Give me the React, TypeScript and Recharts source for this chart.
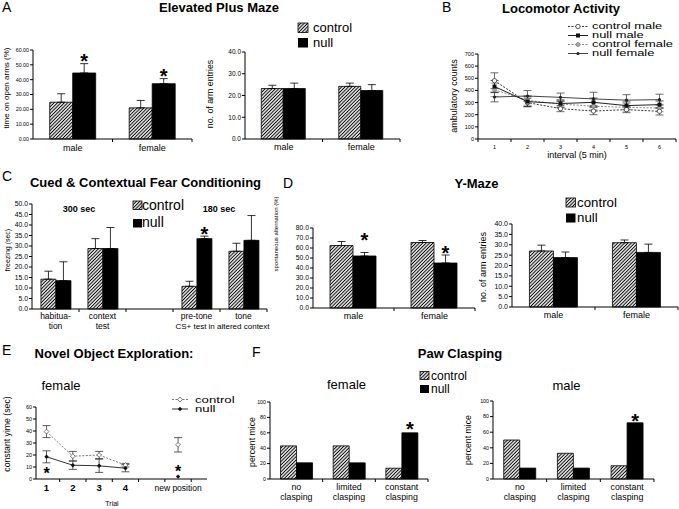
import React from 'react';
import { BarChart, Bar, XAxis, YAxis, ErrorBar, LabelList, LineChart, Line } from 'recharts';

// ---------- A: Elevated Plus Maze ----------
const sexCats = ['male', 'female'];
const epmOpenCtrl = [24.8, 21.0];
const epmOpenCtrlErr = [5.7, 5.0];
const epmOpenNull = [44.5, 37.3];
const epmOpenNullErr = [6.3, 3.4];
const epmOpenSig = [55.4, 45.2];
const epmOpenTicks = [0, 10, 20, 30, 40, 50, 60];

const epmEntCtrl = [23.2, 24.2];
const epmEntCtrlErr = [1.5, 1.5];
const epmEntNull = [23.2, 22.3];
const epmEntNullErr = [2.5, 2.7];
const epmEntTicks = [0, 10, 20, 30, 40];

// ---------- B: Locomotor Activity ----------
const bInterval = [1, 2, 3, 4, 5, 6];
const bTickMarks = [0.5, 1.5, 2.5, 3.5, 4.5, 5.5, 6.5];
const bCtrlMale = [480, 300, 250, 230, 242, 228];
const bCtrlMaleErr = [65, 35, 25, 30, 25, 30];
const bNullMale = [432, 308, 292, 302, 275, 283];
const bNullMaleErr = [50, 40, 30, 35, 30, 30];
const bCtrlFemale = [405, 318, 288, 270, 260, 255];
const bCtrlFemaleErr = [55, 40, 30, 30, 30, 30];
const bNullFemale = [346, 354, 343, 330, 320, 324];
const bNullFemaleErr = [40, 45, 35, 55, 45, 45];
const bTicks = [0, 100, 200, 300, 400, 500, 600, 700];

// ---------- C: Cued & Contextual Fear Conditioning ----------
const fearCats = ['habitua-\ntion', 'context\ntest', ' ', 'pre-tone', 'tone'];
const fearCtrl = [14.2, 28.8, null, 10.8, 27.5];
const fearCtrlErr = [3.8, 4.7, null, 2.4, 3.8];
const fearNull = [13.5, 28.8, null, 33.5, 32.7];
const fearNullErr = [9.0, 10.0, null, 1.2, 11.8];
const fearSig = [null, null, null, 37.5, null];
const fearTicks = [0, 5, 10, 15, 20, 25, 30, 35, 40, 45, 50];

// ---------- D: Y-Maze ----------
const ymAltCtrl = [62.5, 65.5];
const ymAltCtrlErr = [4.0, 2.0];
const ymAltNull = [52.0, 45.0];
const ymAltNullErr = [3.5, 8.0];
const ymAltSig = [72.3, 59.3];
const ymAltTicks = [0, 10, 20, 30, 40, 50, 60, 70, 80];

const ymEntCtrl = [27.0, 31.0];
const ymEntCtrlErr = [2.8, 1.3];
const ymEntNull = [23.8, 26.3];
const ymEntNullErr = [2.7, 4.0];
const ymEntTicks = [0, 5, 10, 15, 20, 25, 30, 35, 40];

// ---------- E: Novel Object Exploration ----------
const eTrial = [1, 2, 3, 4, 5, 6];
const eTickPos = [1, 2, 3, 4, 6];
const eTickLabels = ['1', '2', '3', '4', 'new position'];
const eTickMarks = [1.5, 2.5, 3.5, 4.5, 5.5, 6.5];
const eCtrl = [39.5, 19, 20, 11.5, null, 28.5];
const eCtrlErr = [5, 4, 3, 1.5, 0, 6];
const eNull = [18.5, 11.5, 11, 9, null, 2];
const eNullErr = [5, 3.5, 5.5, 3, 0, 0];
const eSig = [7.2, null, null, null, null, 9.2];
const eTicks = [0, 10, 20, 30, 40, 50, 60];

// ---------- F: Paw Clasping ----------
const clasCats = ['no\nclasping', 'limited\nclasping', 'constant\nclasping'];
const clasFemCtrl = [43, 43, 14];
const clasFemNull = [21, 21, 60];
const clasFemSig = [null, null, 70];
const clasMaleCtrl = [50, 33, 17];
const clasMaleNull = [14, 14, 72];
const clasMaleSig = [null, null, 80];
const clasTicks = [0, 20, 40, 60, 80, 100];

const FONT = "'Liberation Sans', Arial, Helvetica, sans-serif";
const STAR_FS = 20;
const E_STAR_FS = 16;

function buildBars(cats: string[], c: any[], ce: any[] | null, n: any[], ne: any[] | null, sig: any[] | null) {
  return cats.map((cat, i) => ({
    cat,
    ctrl: c[i],
    ctrlErr: ce && ce[i] != null ? [0, ce[i]] : null,
    nul: n[i],
    nulErr: ne && ne[i] != null ? [0, ne[i]] : null,
    sig: sig ? sig[i] : null,
  }));
}

function CatTick(props: any) {
  const { x, y, payload, fs, first, lh } = props;
  const lines = String(payload?.value ?? '').split('\n');
  const off = payload?.offset;
  return (
    <g>
      {typeof off === 'number' && off > 0 ? (
        <line x1={x + off} x2={x + off} y1={y} y2={y + 3} stroke="#000" strokeWidth={1} />
      ) : null}
      {lines.map((l, i) =>
        l.trim() ? (
          <text key={i} x={x} y={y + first + i * lh} textAnchor="middle" fontSize={fs} fill="#000">
            {l}
          </text>
        ) : null
      )}
    </g>
  );
}

function NumTick(props: any) {
  const { x, y, payload, labels, fs, first, boldSet } = props;
  const v = payload?.value;
  const idx = labels.pos.indexOf(v);
  if (idx < 0) {
    return <line x1={x} x2={x} y1={y} y2={y + 3} stroke="#000" strokeWidth={1} />;
  }
  const bold = boldSet ? boldSet[idx] : false;
  return (
    <text x={x} y={y + first} textAnchor="middle" fontSize={bold ? fs + 1 : fs} fontWeight={bold ? 'bold' : 'normal'} fill="#000">
      {labels.text[idx]}
    </text>
  );
}

function BarStar(props: any) {
  const vb = props.viewBox || {};
  const x = vb.x ?? props.x;
  const y = vb.y ?? props.y;
  const w = vb.width ?? props.width;
  const h = vb.height ?? props.height;
  const v = props.value;
  if (v == null || x == null || y == null || h == null) return null;
  const base = y + h;
  const cy = base - v * props.ppu;
  return (
    <text x={x + w / 2} y={cy + 0.56 * STAR_FS} textAnchor="middle" fontSize={STAR_FS} fontWeight="bold" fill="#000">
      *
    </text>
  );
}

type BarPanelProps = {
  px: number; py: number; pw: number; ph: number;
  data: any[]; ticks: number[]; fmt: (v: number) => string;
  yFont: number; catFont: number; first: number; lh: number; gap: string;
  errors?: boolean;
};

function BarPanel(p: BarPanelProps) {
  const YW = 30, MT = 20, MR = 6, XH = 34;
  const W = YW + p.pw + MR;
  const H = MT + p.ph + XH;
  const yMax = p.ticks[p.ticks.length - 1];
  const ppu = p.ph / yMax;
  return (
    <div style={{ position: 'absolute', left: p.px - YW, top: p.py - MT, width: W, height: H }}>
      <BarChart width={W} height={H} data={p.data} margin={{ top: MT, right: MR, left: 0, bottom: 0 }} barCategoryGap={p.gap} barGap={0}>
        <XAxis
          dataKey="cat"
          height={XH}
          axisLine={{ stroke: '#000', strokeWidth: 1 }}
          tickLine={false}
          tickSize={0}
          tickMargin={0}
          interval={0}
          tick={(t: any) => <CatTick {...t} fs={p.catFont} first={p.first} lh={p.lh} />}
        />
        <YAxis
          width={YW}
          domain={[0, yMax]}
          ticks={p.ticks}
          interval={0}
          tickFormatter={p.fmt}
          tick={{ fontSize: p.yFont, fill: '#000' }}
          tickSize={3}
          tickMargin={1}
          axisLine={{ stroke: '#000', strokeWidth: 1 }}
          tickLine={{ stroke: '#000', strokeWidth: 1 }}
        />
        <Bar dataKey="ctrl" fill="url(#hatch)" stroke="#000" strokeWidth={0.8} isAnimationActive={false}>
          {p.errors !== false ? <ErrorBar dataKey="ctrlErr" width={4} stroke="#000" strokeWidth={0.8} direction="y" /> : null}
        </Bar>
        <Bar dataKey="nul" fill="#000" stroke="#000" strokeWidth={0.8} isAnimationActive={false}>
          {p.errors !== false ? <ErrorBar dataKey="nulErr" width={4} stroke="#000" strokeWidth={0.8} direction="y" /> : null}
          <LabelList dataKey="sig" content={(lp: any) => <BarStar {...lp} ppu={ppu} />} />
        </Bar>
      </BarChart>
    </div>
  );
}

// ---------- dots ----------
const emptyDot = (d: any) => <g key={`e-${d.index}`} />;
const openCircle = (stroke: string) => (d: any) =>
  d.cy == null || d.value == null ? emptyDot(d) : <circle key={`oc-${d.index}`} cx={d.cx} cy={d.cy} r={2.2} fill="#fff" stroke={stroke} strokeWidth={0.8} />;
const grayCircle = (d: any) =>
  d.cy == null || d.value == null ? emptyDot(d) : <circle key={`gc-${d.index}`} cx={d.cx} cy={d.cy} r={2} fill="#aaa" stroke="#777" strokeWidth={0.7} />;
const squareDot = (d: any) =>
  d.cy == null || d.value == null ? emptyDot(d) : <rect key={`sq-${d.index}`} x={d.cx - 2} y={d.cy - 2} width={4} height={4} fill="#111" />;
const smallDot = (d: any) =>
  d.cy == null || d.value == null ? emptyDot(d) : <circle key={`sd-${d.index}`} cx={d.cx} cy={d.cy} r={1.6} fill="#222" />;
const diamond = (cx: number, cy: number, s: number) => `${cx},${cy - s} ${cx + s},${cy} ${cx},${cy + s} ${cx - s},${cy}`;
const openDiamond = (d: any) =>
  d.cy == null || d.value == null ? emptyDot(d) : <polygon key={`od-${d.index}`} points={diamond(d.cx, d.cy, 2.4)} fill="#fff" stroke="#555" strokeWidth={0.8} />;
const fullDiamond = (d: any) =>
  d.cy == null || d.value == null ? emptyDot(d) : <polygon key={`fd-${d.index}`} points={diamond(d.cx, d.cy, 2.2)} fill="#111" />;
const starDot = (d: any) =>
  d.cy == null || d.value == null ? emptyDot(d) : (
    <text key={`st-${d.index}`} x={d.cx} y={d.cy + 0.56 * E_STAR_FS} textAnchor="middle" fontSize={E_STAR_FS} fontWeight="bold" fill="#000">*</text>
  );

function LocomotorPanel() {
  const px = 478, py = 54, pw = 198, ph = 85;
  const YW = 30, MT = 10, MR = 4, XH = 20;
  const W = YW + pw + MR, H = MT + ph + XH;
  const data = bInterval.map((x, i) => ({
    x,
    cm: bCtrlMale[i], cmE: bCtrlMaleErr[i],
    nm: bNullMale[i], nmE: bNullMaleErr[i],
    cf: bCtrlFemale[i], cfE: bCtrlFemaleErr[i],
    nf: bNullFemale[i], nfE: bNullFemaleErr[i],
  }));
  const ticks = [...bTickMarks, ...bInterval].sort((a, b) => a - b);
  const labels = { pos: bInterval, text: bInterval.map(String) };
  return (
    <div style={{ position: 'absolute', left: px - YW, top: py - MT, width: W, height: H }}>
      <LineChart width={W} height={H} data={data} margin={{ top: MT, right: MR, left: 0, bottom: 0 }}>
        <XAxis
          type="number"
          dataKey="x"
          domain={[0.5, 6.5]}
          ticks={ticks}
          interval={0}
          height={XH}
          axisLine={{ stroke: '#000' }}
          tickLine={false}
          tickSize={0}
          tickMargin={0}
          tick={(t: any) => <NumTick {...t} labels={labels} fs={5.5} first={10} />}
        />
        <YAxis width={YW} domain={[0, 700]} ticks={bTicks} interval={0} tick={{ fontSize: 5.5, fill: '#000' }} tickSize={3} tickMargin={1} axisLine={{ stroke: '#000' }} tickLine={{ stroke: '#000' }} />
        <Line dataKey="cf" stroke="#888" strokeDasharray="2 1.5" strokeWidth={1} dot={grayCircle} activeDot={false} isAnimationActive={false}>
          <ErrorBar dataKey="cfE" width={4} stroke="#888" strokeWidth={0.8} direction="y" />
        </Line>
        <Line dataKey="cm" stroke="#333" strokeDasharray="2 1.5" strokeWidth={1} dot={openCircle('#333')} activeDot={false} isAnimationActive={false}>
          <ErrorBar dataKey="cmE" width={4} stroke="#444" strokeWidth={0.8} direction="y" />
        </Line>
        <Line dataKey="nf" stroke="#444" strokeWidth={1} dot={smallDot} activeDot={false} isAnimationActive={false}>
          <ErrorBar dataKey="nfE" width={4} stroke="#444" strokeWidth={0.8} direction="y" />
        </Line>
        <Line dataKey="nm" stroke="#222" strokeWidth={1} dot={squareDot} activeDot={false} isAnimationActive={false}>
          <ErrorBar dataKey="nmE" width={4} stroke="#222" strokeWidth={0.8} direction="y" />
        </Line>
      </LineChart>
    </div>
  );
}

function NovelPanel() {
  const px = 36, py = 407, pw = 171, ph = 72;
  const YW = 30, MT = 10, MR = 4, XH = 20;
  const W = YW + pw + MR, H = MT + ph + XH;
  const data = eTrial.map((x, i) => ({
    x,
    c: eCtrl[i], cE: eCtrlErr[i],
    n: eNull[i], nE: eNullErr[i],
    s: eSig[i],
  }));
  const ticks = [...eTickMarks, ...eTickPos].sort((a, b) => a - b);
  const labels = { pos: eTickPos, text: eTickLabels };
  const boldSet = eTickLabels.map((l) => l.length === 1);
  return (
    <div style={{ position: 'absolute', left: px - YW, top: py - MT, width: W, height: H }}>
      <LineChart width={W} height={H} data={data} margin={{ top: MT, right: MR, left: 0, bottom: 0 }}>
        <XAxis
          type="number"
          dataKey="x"
          domain={[0.6, 7.1]}
          ticks={ticks}
          interval={0}
          height={XH}
          axisLine={{ stroke: '#000' }}
          tickLine={false}
          tickSize={0}
          tickMargin={0}
          tick={(t: any) => <NumTick {...t} labels={labels} fs={8.5} first={11.7} boldSet={boldSet} />}
        />
        <YAxis width={YW} domain={[0, 60]} ticks={eTicks} interval={0} tick={{ fontSize: 5.5, fill: '#000' }} tickSize={3} tickMargin={1} axisLine={{ stroke: '#000' }} tickLine={{ stroke: '#000' }} />
        <Line dataKey="c" stroke="#777" strokeDasharray="2 1.5" strokeWidth={1} dot={openDiamond} activeDot={false} isAnimationActive={false}>
          <ErrorBar dataKey="cE" width={4} stroke="#333" strokeWidth={0.8} direction="y" />
        </Line>
        <Line dataKey="n" stroke="#333" strokeWidth={1} dot={fullDiamond} activeDot={false} isAnimationActive={false}>
          <ErrorBar dataKey="nE" width={4} stroke="#333" strokeWidth={0.8} direction="y" />
        </Line>
        <Line dataKey="s" stroke="none" strokeWidth={0} dot={starDot} activeDot={false} isAnimationActive={false} />
      </LineChart>
    </div>
  );
}

// ---------- overlay helpers ----------
const Txt = ({ x, y, fs, children, bold, anchor }: any) => (
  <text x={x} y={y} fontSize={fs} fontWeight={bold ? 'bold' : 'normal'} textAnchor={anchor || 'start'} fill="#000">
    {children}
  </text>
);
const VTxt = ({ x, y, fs, children }: any) => (
  <text x={x} y={y} fontSize={fs} textAnchor="middle" dominantBaseline="central" transform={`rotate(-90 ${x} ${y})`} fill="#000">
    {children}
  </text>
);
const Swatches = ({ x, y1, y2, w, h, tx, b1, b2, fs }: any) => (
  <g>
    <rect x={x} y={y1} width={w} height={h} fill="url(#hatch)" stroke="#000" strokeWidth={0.8} />
    <rect x={x} y={y2} width={w} height={h} fill="#000" />
    <Txt x={tx} y={b1} fs={fs}>control</Txt>
    <Txt x={tx} y={b2} fs={fs}>null</Txt>
  </g>
);
const Stretched = ({ x, y, fs, sx, children }: any) => (
  <g transform={`translate(${x} 0) scale(${sx} 1)`}>
    <text x={0} y={y} fontSize={fs} fill="#000">{children}</text>
  </g>
);

const fmt2 = (v: number) => v.toFixed(2);
const fmt1 = (v: number) => v.toFixed(1);
const fmt0 = (v: number) => String(v);

export default function App() {
  const epmOpen = buildBars(sexCats, epmOpenCtrl, epmOpenCtrlErr, epmOpenNull, epmOpenNullErr, epmOpenSig);
  const epmEnt = buildBars(sexCats, epmEntCtrl, epmEntCtrlErr, epmEntNull, epmEntNullErr, null);
  const fear = buildBars(fearCats, fearCtrl, fearCtrlErr, fearNull, fearNullErr, fearSig);
  const ymAlt = buildBars(sexCats, ymAltCtrl, ymAltCtrlErr, ymAltNull, ymAltNullErr, ymAltSig);
  const ymEnt = buildBars(sexCats, ymEntCtrl, ymEntCtrlErr, ymEntNull, ymEntNullErr, null);
  const clasFem = buildBars(clasCats, clasFemCtrl, null, clasFemNull, null, clasFemSig);
  const clasMale = buildBars(clasCats, clasMaleCtrl, null, clasMaleNull, null, clasMaleSig);

  const bLegendRows = [
    { label: 'control male', b: 29.5 },
    { label: 'null male', b: 38.5 },
    { label: 'control female', b: 47.5 },
    { label: 'null female', b: 56.5 },
  ];

  return (
    <div style={{ position: 'absolute', left: 0, top: 0, width: 679, height: 509, overflow: 'hidden', background: '#fff', fontFamily: FONT }}>
      <svg width={0} height={0} style={{ position: 'absolute' }}>
        <defs>
          <pattern id="hatch" patternUnits="userSpaceOnUse" width={2.4} height={2.4} patternTransform="rotate(45)">
            <rect width={2.4} height={2.4} fill="#fff" />
            <line x1={1.2} y1={0} x2={1.2} y2={2.4} stroke="#000" strokeWidth={1.05} />
          </pattern>
        </defs>
      </svg>

      <BarPanel px={33} py={50} pw={159} ph={89} data={epmOpen} ticks={epmOpenTicks} fmt={fmt2} yFont={5.3} catFont={9} first={12} lh={10} gap="21%" />
      <BarPanel px={245} py={52} pw={155} ph={87} data={epmEnt} ticks={epmEntTicks} fmt={fmt1} yFont={6.5} catFont={9} first={11} lh={10} gap="21%" />
      <LocomotorPanel />
      <BarPanel px={32} py={204} pw={235} ph={105} data={fear} ticks={fearTicks} fmt={fmt1} yFont={6.8} catFont={8.5} first={9.5} lh={10.5} gap="19%" />
      <BarPanel px={313} py={228} pw={162} ph={80} data={ymAlt} ticks={ymAltTicks} fmt={fmt1} yFont={6.8} catFont={9} first={11} lh={10} gap="21%" />
      <BarPanel px={512} py={224} pw={166} ph={83} data={ymEnt} ticks={ymEntTicks} fmt={fmt1} yFont={7} catFont={9} first={11} lh={10} gap="21%" />
      <NovelPanel />
      <BarPanel px={270} py={402} pw={158} ph={77} data={clasFem} ticks={clasTicks} fmt={fmt0} yFont={5.3} catFont={8.8} first={10.5} lh={10.5} gap="20%" errors={false} />
      <BarPanel px={493} py={401} pw={161} ph={78} data={clasMale} ticks={clasTicks} fmt={fmt0} yFont={5.3} catFont={8.8} first={10.5} lh={10.5} gap="20%" errors={false} />

      <svg width={679} height={509} style={{ position: 'absolute', left: 0, top: 0, pointerEvents: 'none' }}>
        {/* panel letters */}
        <Txt x={2} y={12} fs={14}>A</Txt>
        <Txt x={442} y={12} fs={14}>B</Txt>
        <Txt x={2} y={181} fs={14}>C</Txt>
        <Txt x={283} y={188} fs={14}>D</Txt>
        <Txt x={2} y={355} fs={14}>E</Txt>
        <Txt x={252} y={357} fs={14}>F</Txt>

        {/* titles */}
        <Txt x={219} y={12} fs={13} bold anchor="middle">Elevated Plus Maze</Txt>
        <Txt x={561} y={12.5} fs={13} bold anchor="middle">Locomotor Activity</Txt>
        <Txt x={145.5} y={187} fs={13} bold anchor="middle">Cued &amp; Contextual Fear Conditioning</Txt>
        <Txt x={476.5} y={188} fs={13} bold anchor="middle">Y-Maze</Txt>
        <Txt x={114} y={358} fs={13} bold anchor="middle">Novel Object Exploration:</Txt>
        <Txt x={460} y={358} fs={13} bold anchor="middle">Paw Clasping</Txt>

        {/* y-axis labels */}
        <VTxt x={6} y={88} fs={8}>time on open arms (%)</VTxt>
        <VTxt x={210} y={94} fs={8.8}>no. of arm entries</VTxt>
        <VTxt x={454} y={96} fs={9}>ambulatory counts</VTxt>
        <VTxt x={7.5} y={250} fs={7}>freezing (sec)</VTxt>
        <VTxt x={276} y={234} fs={6}>spontaneous alternation (%)</VTxt>
        <VTxt x={483} y={267} fs={9}>no. of arm entries</VTxt>
        <VTxt x={7} y={434} fs={8.7}>constant yime (sec)</VTxt>
        <VTxt x={252} y={442} fs={8.7}>percent mice</VTxt>
        <VTxt x={468} y={440} fs={8.7}>percent mice</VTxt>

        {/* other labels */}
        <Txt x={577} y={158} fs={9} anchor="middle">interval (5 min)</Txt>
        <Txt x={79} y={211.5} fs={9} bold anchor="middle">300 sec</Txt>
        <Txt x={219} y={211.5} fs={9} bold anchor="middle">180 sec</Txt>
        <Txt x={222.5} y={329} fs={8} anchor="middle">CS+ test in altered context</Txt>
        <Txt x={61} y={390} fs={13} anchor="middle">female</Txt>
        <Txt x={112} y={506} fs={7} anchor="middle">Trial</Txt>
        <Txt x={346.5} y={389} fs={13} anchor="middle">female</Txt>
        <Txt x={566.5} y={390} fs={13} anchor="middle">male</Txt>

        {/* legends with hatch swatches */}
        <Swatches x={298} y1={23} y2={38} w={10} h={9.5} tx={313} b1={32} b2={46.7} fs={13} />
        <Swatches x={133} y1={201} y2={219} w={9} h={8.5} tx={142} b1={210} b2={227} fs={14} />
        <Swatches x={566} y1={198} y2={213.5} w={9.5} h={9} tx={577} b1={207} b2={222} fs={13.3} />
        <Swatches x={420} y1={371.5} y2={385} w={9} h={8} tx={431} b1={379.5} b2={393} fs={12} />

        {/* B legend */}
        {bLegendRows.map((r, i) => {
          const cy = r.b - 3;
          const dashed = i === 0 || i === 2;
          const color = i === 0 ? '#333' : i === 1 ? '#222' : i === 2 ? '#888' : '#444';
          return (
            <g key={r.label}>
              <line x1={568} x2={588} y1={cy} y2={cy} stroke={color} strokeWidth={1} strokeDasharray={dashed ? '2 1.5' : undefined} />
              {i === 0 ? <circle cx={578} cy={cy} r={2.2} fill="#fff" stroke="#333" strokeWidth={0.8} /> : null}
              {i === 1 ? <rect x={576} y={cy - 2} width={4} height={4} fill="#111" /> : null}
              {i === 2 ? <circle cx={578} cy={cy} r={2} fill="#aaa" stroke="#777" strokeWidth={0.7} /> : null}
              {i === 3 ? <circle cx={578} cy={cy} r={1.6} fill="#222" /> : null}
              <Stretched x={592} y={r.b} fs={8.6} sx={1.5}>{r.label}</Stretched>
            </g>
          );
        })}

        {/* E legend */}
        <line x1={172} x2={188} y1={399.5} y2={399.5} stroke="#777" strokeWidth={1} strokeDasharray="2 1.5" />
        <polygon points={diamond(180, 399.5, 2.4)} fill="#fff" stroke="#555" strokeWidth={0.8} />
        <Stretched x={195} y={403} fs={8.8} sx={1.5}>control</Stretched>
        <line x1={172} x2={188} y1={409} y2={409} stroke="#333" strokeWidth={1} />
        <polygon points={diamond(180, 409, 2.2)} fill="#111" />
        <Stretched x={195} y={412.5} fs={8.8} sx={1.5}>null</Stretched>
      </svg>
    </div>
  );
}
